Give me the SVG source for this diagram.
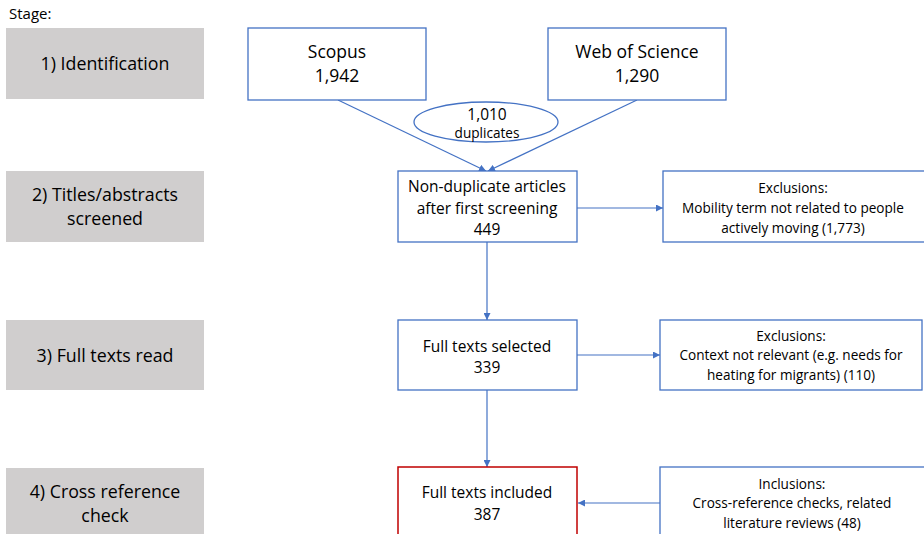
<svg xmlns="http://www.w3.org/2000/svg" width="924" height="534" viewBox="0 0 924 534">
<style>
text{font-family:"Open Sans","Liberation Sans",sans-serif;fill:#000;text-anchor:middle}
.stage rect{fill:#D0CECE}
.stage text{font-size:17.8px}
.box{fill:#fff;stroke:#4472C4;stroke-width:1.3}
.big{font-size:17.5px}
.mid{font-size:15.5px}
.sm{font-size:13.6px}
.con{stroke:#4472C4;stroke-width:1.2;fill:none;marker-end:url(#ah)}
</style>
<defs>
<marker id="ah" viewBox="0 0 10 10" refX="10" refY="5" markerWidth="7" markerHeight="7" markerUnits="userSpaceOnUse" orient="auto">
<path d="M0,0 L10,5 L0,10 z" fill="#4472C4"/>
</marker>
</defs>
<rect width="924" height="534" fill="#fff"/>
<text x="9" y="19" style="text-anchor:start;font-size:15px">Stage:</text>
<g id="stage1" class="stage"><rect x="6" y="28" width="198" height="71"/><text x="105" y="70">1) Identification</text></g>
<g id="stage2" class="stage"><rect x="6" y="171" width="198" height="71"/><text x="105" y="201">2) Titles/abstracts</text><text x="105" y="225">screened</text></g>
<g id="stage3" class="stage"><rect x="6" y="320" width="198" height="70"/><text x="105" y="362">3) Full texts read</text></g>
<g id="stage4" class="stage"><rect x="6" y="468" width="198" height="70"/><text x="105" y="498">4) Cross reference</text><text x="105" y="522">check</text></g>
<g id="connectors">
<line class="con" x1="338" y1="100" x2="486" y2="171"/>
<line class="con" x1="637" y1="100" x2="488" y2="171"/>
<line class="con" x1="487" y1="242" x2="487" y2="320"/>
<line class="con" x1="577" y1="208" x2="663" y2="208"/>
<line class="con" x1="487" y1="390" x2="487" y2="467"/>
<line class="con" x1="577" y1="355" x2="660" y2="355"/>
<line class="con" x1="660" y1="503" x2="578" y2="503"/>
</g>
<g id="scopus"><rect class="box" x="248" y="28" width="178" height="72"/><text class="big" x="337" y="58">Scopus</text><text class="big" x="337" y="82">1,942</text></g>
<g id="wos"><rect class="box" x="548" y="28" width="178" height="72"/><text class="big" x="637" y="58">Web of Science</text><text class="big" x="637" y="82">1,290</text></g>
<g id="duplicates"><ellipse class="box" cx="486" cy="122" rx="72" ry="20"/><text class="mid" x="487" y="120">1,010</text><text class="sm" x="487" y="138">duplicates</text></g>
<g id="nondup"><rect class="box" x="398" y="171" width="179" height="71"/><text class="mid" x="487" y="192">Non-duplicate articles</text><text class="mid" x="487" y="214">after first screening</text><text class="mid" x="487" y="235">449</text></g>
<g id="excl1"><rect class="box" x="663" y="171" width="262" height="71"/><text class="sm" x="793" y="193">Exclusions:</text><text class="sm" x="793" y="213">Mobility term not related to people</text><text class="sm" x="793" y="233">actively moving (1,773)</text></g>
<g id="fts"><rect class="box" x="398" y="320" width="179" height="70"/><text class="mid" x="487" y="352">Full texts selected</text><text class="mid" x="487" y="373">339</text></g>
<g id="excl2"><rect class="box" x="660" y="320" width="262" height="70"/><text class="sm" x="791" y="341">Exclusions:</text><text class="sm" x="791" y="360">Context not relevant (e.g. needs for</text><text class="sm" x="791" y="380">heating for migrants) (110)</text></g>
<g id="fti"><rect x="398" y="467" width="179" height="72" fill="#fff" stroke="#C00000" stroke-width="1.5"/><text class="mid" x="487" y="498">Full texts included</text><text class="mid" x="487" y="520">387</text></g>
<g id="incl"><rect class="box" x="660" y="467" width="266" height="72"/><text class="sm" x="792" y="489">Inclusions:</text><text class="sm" x="792" y="508">Cross-reference checks, related</text><text class="sm" x="792" y="528">literature reviews (48)</text></g>
</svg>
